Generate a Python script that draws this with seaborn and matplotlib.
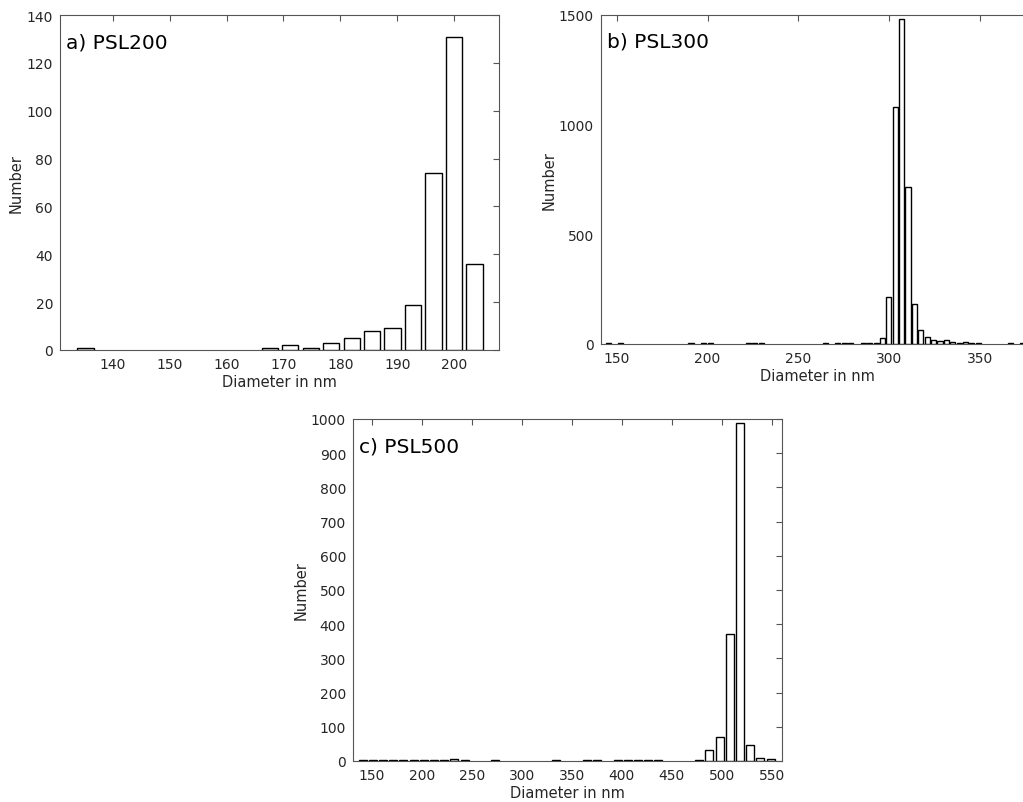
import numpy as np
import pandas as pd
import matplotlib
matplotlib.use("Agg")
import matplotlib.pyplot as plt
import seaborn as sns

sns.set_theme(style="white")
plt.rcParams['font.family'] = ['DejaVu Sans']

# ---- data (bin centres in nm, counts) ----
a_width = 3.6
a_centers = [135.2, 167.6, 171.2, 174.8, 178.4, 182.0, 185.6, 189.2, 192.8, 196.4, 200.0, 203.6]
a_counts = [1, 1, 2, 1, 3, 5, 8, 9, 19, 74, 131, 36]

b_width = 3.52
b_centers = [145.1, 152.2, 190.9, 197.9, 201.4, 222.6, 226.1, 229.6, 264.8, 271.8, 275.4,
             278.9, 285.9, 289.4, 293.0, 296.5, 300.0, 303.5, 307.0, 310.6, 314.1, 317.6,
             321.1, 324.6, 328.2, 331.7, 335.2, 338.7, 342.2, 345.8, 349.3, 366.9, 373.9]
b_counts = [4, 4, 4, 4, 5, 4, 4, 4, 4, 4, 4,
            4, 4, 5, 5, 26, 213, 1080, 1480, 714, 182, 65,
            33, 17, 12, 17, 8, 5, 9, 4, 4, 4, 4]

c_width = 10.2
c_centers = [140.9, 151.1, 161.3, 171.5, 181.7, 191.9, 202.1, 212.3, 222.5, 232.7, 242.9,
             273.5, 334.7, 365.3, 375.5, 395.9, 406.1, 416.3, 426.5, 436.7, 477.5, 487.7,
             497.9, 508.1, 518.3, 528.5, 538.7, 548.9]
c_counts = [3, 3, 3, 3, 3, 3, 3, 3, 3, 7, 3,
            3, 3, 3, 3, 3, 3, 3, 3, 3, 3, 32,
            70, 371, 988, 47, 9, 5]

a_xticks = [140, 150, 160, 170, 180, 190, 200]
a_yticks = [0, 20, 40, 60, 80, 100, 120, 140]
b_xticks = [150, 200, 250, 300, 350]
b_yticks = [0, 500, 1000, 1500]
c_xticks = [150, 200, 250, 300, 350, 400, 450, 500, 550]
c_yticks = [0, 100, 200, 300, 400, 500, 600, 700, 800, 900, 1000]

W, H = 1023, 803
fig = plt.figure(figsize=(W / 100, H / 100), dpi=100)
ax_a = fig.add_axes([60 / W, 1 - 351 / H, 439 / W, 335 / H])
ax_b = fig.add_axes([601 / W, 1 - 345 / H, 433 / W, 329 / H])
ax_c = fig.add_axes([353 / W, 1 - 762 / H, 429 / W, 342 / H])

SPINE = '#555555'
TEXT = '#262626'


def panel(ax, centers, counts, width, xlim, ylim, xticks, yticks, label):
    df = pd.DataFrame({'diameter': centers, 'number': counts})
    lo = centers[0] - width / 2
    nbins = int(round((centers[-1] - centers[0]) / width)) + 1
    hi = lo + nbins * width
    sns.histplot(data=df, x='diameter', weights='number', binwidth=width,
                 binrange=(lo, hi), shrink=0.8, ax=ax,
                 color='white', edgecolor='black', linewidth=1.0, alpha=1)
    for p in ax.patches:
        if p.get_height() == 0:
            p.set_visible(False)
        p.set_zorder(3)
    ax.set_xlim(*xlim)
    ax.set_ylim(*ylim)
    ax.set_xticks(xticks)
    ax.set_yticks(yticks)
    ax.tick_params(direction='in', top=True, right=True, length=4, width=0.8,
                   color=SPINE, labelcolor=TEXT, labelsize=10)
    ax.tick_params(axis='x', pad=5)
    ax.tick_params(axis='y', pad=5)
    for s in ax.spines.values():
        s.set_visible(True)
        s.set_color(SPINE)
        s.set_linewidth(0.8)
        s.set_zorder(2)
    ax.set_xlabel('Diameter in nm', fontsize=10.5, color=TEXT, labelpad=2)
    ax.set_ylabel('Number', fontsize=10.5, color=TEXT, labelpad=2)
    ax.text(0.014, 0.92, label, transform=ax.transAxes, ha='left', va='center',
            fontsize=14.5, color='black')


panel(ax_a, a_centers, a_counts, a_width, (130.7, 207.9), (0, 140), a_xticks, a_yticks, 'a) PSL200')
panel(ax_b, b_centers, b_counts, b_width, (141.2, 380), (0, 1500), b_xticks, b_yticks, 'b) PSL300')
panel(ax_c, c_centers, c_counts, c_width, (131.3, 560.3), (0, 1000), c_xticks, c_yticks, 'c) PSL500')

fig.savefig('out.png', dpi=100)
